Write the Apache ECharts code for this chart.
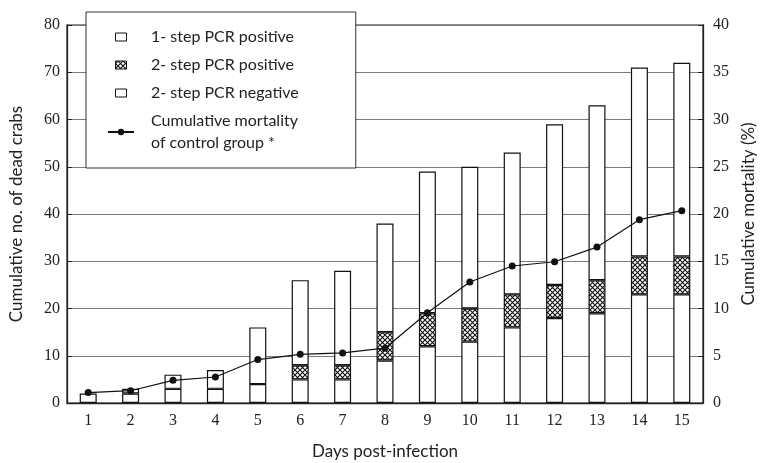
<!DOCTYPE html>
<html>
<head>
<meta charset="utf-8">
<script src="https://cdn.jsdelivr.net/npm/echarts@6/dist/echarts.min.js"></script>
<style>
  html, body { margin: 0; padding: 0; background: #fff; }
  #main { width: 764px; height: 463px; }
</style>
</head>
<body>
<div id="main"></div>
<script>
// days after infection
var days = ['1', '2', '3', '4', '5', '6', '7', '8', '9', '10', '11', '12', '13', '14', '15'];
// cumulative dead crabs, split by PCR result (stacked)
var oneStepPos = [2, 2, 3, 3, 4, 5, 5, 9, 12, 13, 16, 18, 19, 23, 23];
var twoStepPos = [0, 0, 0, 0, 0, 3, 3, 6, 7, 7, 7, 7, 7, 8, 8];
var twoStepNeg = [0, 1, 3, 4, 12, 18, 20, 23, 30, 30, 30, 34, 37, 40, 41];
// cumulative mortality of control group (%)
var mortality = [1.1, 1.3, 2.4, 2.75, 4.6, 5.15, 5.3, 5.8, 9.55, 12.8, 14.5, 14.95, 16.5, 19.4, 20.35];

var names = ['1- step PCR positive', '2- step PCR positive', '2- step PCR negative',
  'Cumulative mortality\nof control group *'];

// cross hatch pattern
function hatch() {
  var c = document.createElement('canvas');
  c.width = 5; c.height = 5;
  var ctx = c.getContext('2d');
  ctx.fillStyle = '#fff';
  ctx.fillRect(0, 0, 5, 5);
  ctx.strokeStyle = '#111';
  ctx.lineWidth = 1.1;
  ctx.beginPath();
  ctx.moveTo(0, 0); ctx.lineTo(5, 5);
  ctx.moveTo(5, 0); ctx.lineTo(0, 5);
  ctx.stroke();
  return c;
}
// empty segments are left out so they draw no extra edge
function skipZero(arr) {
  return arr.map(function (v) { return v === 0 ? null : v; });
}

var serif = '"Liberation Serif", serif';
var sans = 'Lato, "Open Sans", sans-serif';
var barIcon = 'path://M0,0H11V8H0Z';

var chart = echarts.init(document.getElementById('main'), null, { renderer: 'canvas' });

var barStyle = { color: '#fff', borderColor: '#111', borderWidth: 1.2 };

chart.setOption({
  animation: false,
  grid: {
    left: 67, right: 61, top: 25, bottom: 60,
    outerBoundsMode: 'none',
    show: true, borderColor: '#222', borderWidth: 1.2, backgroundColor: 'transparent'
  },
  legend: {
    orient: 'vertical',
    left: 86, top: 12,
    padding: [14, 57, 14, 21],
    backgroundColor: '#fff',
    borderColor: '#333',
    borderWidth: 1,
    itemWidth: 26,
    itemHeight: 8,
    itemGap: 6,
    textStyle: { fontFamily: sans, fontSize: 16, color: '#222', lineHeight: 22, padding: [0, 0, 0, 12] },
    data: [
      { name: names[0], icon: barIcon, itemStyle: { borderWidth: 1 } },
      { name: names[1], icon: barIcon, itemStyle: { borderWidth: 1 } },
      { name: names[2], icon: barIcon, itemStyle: { borderWidth: 1 } },
      { name: names[3] }
    ]
  },
  xAxis: {
    type: 'category',
    data: days,
    name: 'Days post-infection',
    nameLocation: 'middle',
    nameGap: 40,
    nameTextStyle: { fontFamily: sans, fontSize: 17, color: '#222' },
    axisLine: { lineStyle: { color: '#222', width: 1.3 } },
    axisTick: { inside: true, length: 5, lineStyle: { color: '#222' } },
    axisLabel: { fontFamily: serif, fontSize: 16, color: '#222', margin: 10 }
  },
  yAxis: [
    {
      type: 'value',
      min: 0, max: 80, interval: 10,
      name: 'Cumulative no. of dead crabs',
      nameLocation: 'middle',
      nameGap: 42,
      nameTextStyle: { fontFamily: sans, fontSize: 17, color: '#222' },
      axisLine: { show: true, lineStyle: { color: '#222', width: 1.3 } },
      axisTick: { show: true, inside: true, length: 5, lineStyle: { color: '#222' } },
      axisLabel: { fontFamily: serif, fontSize: 16, color: '#222', margin: 7 },
      splitLine: { lineStyle: { color: '#7a7a7a', width: 1 } }
    },
    {
      type: 'value',
      min: 0, max: 40, interval: 5,
      name: 'Cumulative mortality (%)',
      nameLocation: 'middle',
      nameGap: 37,
      nameTextStyle: { fontFamily: sans, fontSize: 17, color: '#222' },
      axisLine: { show: true, lineStyle: { color: '#222', width: 1.3 } },
      axisTick: { show: true, inside: true, length: 5, lineStyle: { color: '#222' } },
      axisLabel: { fontFamily: serif, fontSize: 16, color: '#222', margin: 10 },
      splitLine: { show: false }
    }
  ],
  series: [
    {
      name: names[0], type: 'bar', stack: 'crabs', barWidth: 17,
      itemStyle: barStyle, data: skipZero(oneStepPos)
    },
    {
      name: names[1], type: 'bar', stack: 'crabs', barWidth: 17,
      itemStyle: { color: { image: hatch(), repeat: 'repeat' }, borderColor: '#111', borderWidth: 1.2 },
      data: skipZero(twoStepPos)
    },
    {
      name: names[2], type: 'bar', stack: 'crabs', barWidth: 17,
      itemStyle: barStyle, data: skipZero(twoStepNeg)
    },
    {
      name: names[3], type: 'line', yAxisIndex: 1, z: 5,
      symbol: 'circle', symbolSize: 7,
      itemStyle: { color: '#111' },
      lineStyle: { color: '#111', width: 1.2 },
      data: mortality
    }
  ]
});
</script>
</body>
</html>
